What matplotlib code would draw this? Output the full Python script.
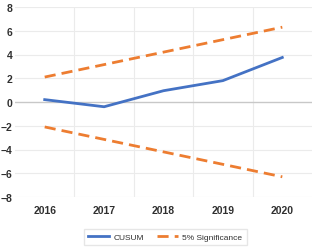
import matplotlib.pyplot as plt

plt.rcParams['font.family'] = ['Liberation Sans', 'DejaVu Sans']

# data
years = ['2016', '2017', '2018', '2019', '2020']
cusum = [0.2, -0.4, 0.95, 1.8, 3.75]
upper = [2.1, 3.15, 4.2, 5.25, 6.3]
lower = [-2.1, -3.15, -4.2, -5.25, -6.3]

blue = '#4472C4'
orange = '#ED7D31'

fig = plt.figure(figsize=(3.17, 2.53), dpi=100)
ax = fig.add_axes([15 / 317, 1 - 198 / 253, 297 / 317, 190 / 253])

x = list(range(len(years)))
ax.plot(x, cusum, color=blue, lw=2, label='CUSUM', zorder=3)
ax.plot(x, upper, color=orange, lw=2, dashes=(4, 2.2), label='5% Significance', zorder=3)
ax.plot(x, lower, color=orange, lw=2, dashes=(4, 2.2), zorder=3)

ax.set_xlim(-0.5, len(years) - 0.5)
ax.set_ylim(-8, 8)
ax.set_yticks(range(-8, 9, 2))
ax.set_xticks(x)
ax.set_xticklabels(years)

# vertical gridlines between the categories
for b in range(1, len(years)):
    ax.axvline(b - 0.5, color='#EBEBEB', lw=0.8, zorder=1)
for t in range(-8, 9, 2):
    if t != 0:
        ax.axhline(t, color='#EBEBEB', lw=0.8, zorder=1)
ax.axhline(0, color='#C8C8C8', lw=1, zorder=2)

for s in ax.spines.values():
    s.set_visible(False)
ax.tick_params(length=0, labelsize=7.5, colors='#303030')
ax.tick_params(axis='y', pad=2)
ax.tick_params(axis='x', pad=6)
for lab in ax.get_xticklabels() + ax.get_yticklabels():
    lab.set_fontweight('bold')

leg = ax.legend(loc='center', bbox_to_anchor=(165 / 317, 1 - 238 / 253),
                bbox_transform=fig.transFigure, ncol=2, fontsize=6,
                frameon=True, fancybox=False, edgecolor='#E0E0E0',
                handlelength=2.6, handletextpad=0.5, columnspacing=1.5,
                borderpad=0.5)
for txt in leg.get_texts():
    txt.set_color('#303030')

plt.savefig('out.png', dpi=100)
